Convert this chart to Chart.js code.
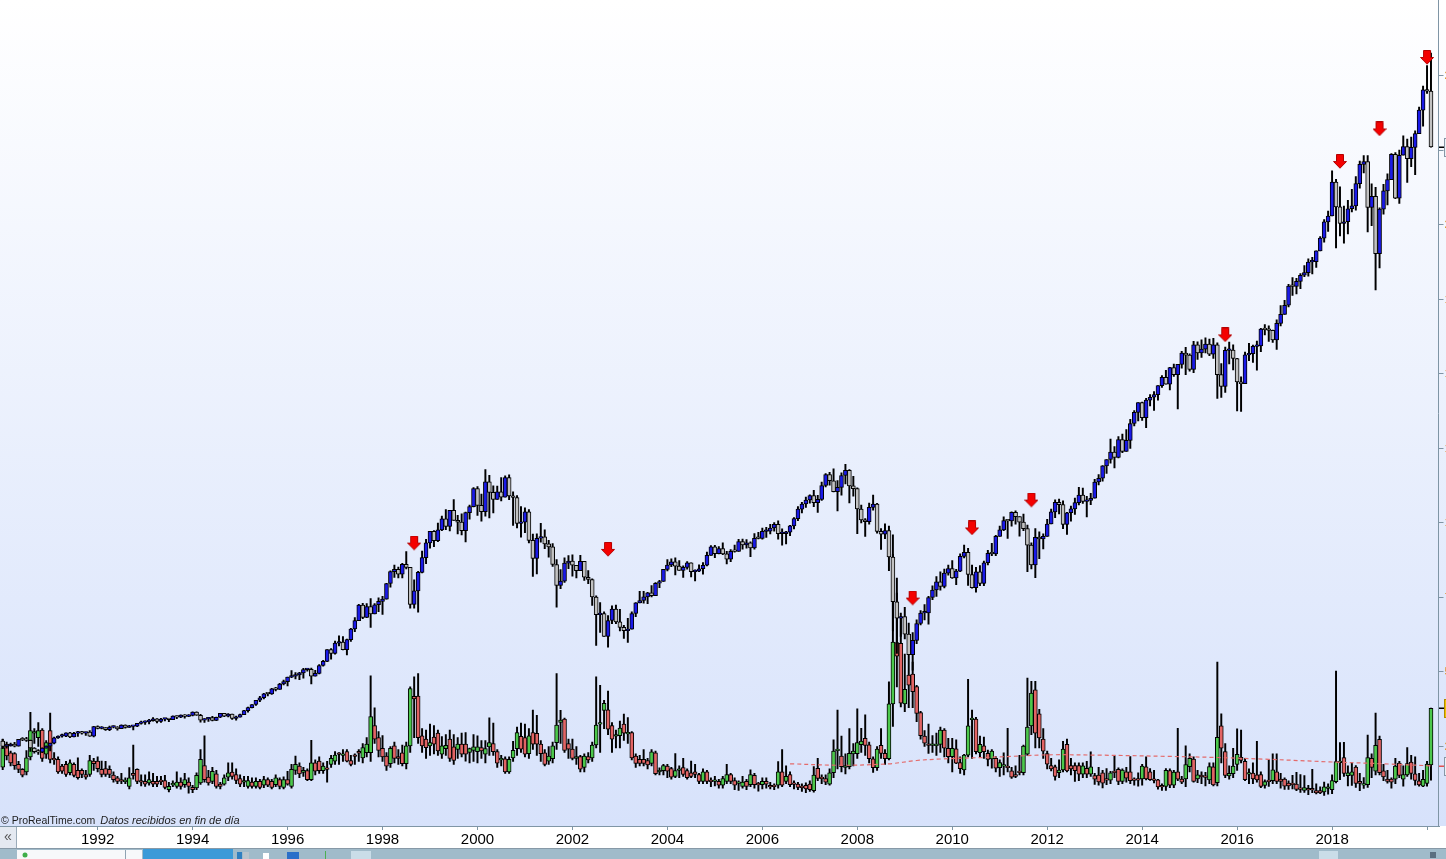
<!DOCTYPE html>
<html><head><meta charset="utf-8">
<script src="https://cdn.jsdelivr.net/npm/chart.js@4/dist/chart.umd.min.js"></script>
<style>html,body{margin:0;padding:0;overflow:hidden;background:#fff}#wrap{width:1446px;height:859px}canvas{display:block}</style>
</head><body><div id="wrap"><canvas id="c" width="1446" height="859"></canvas></div>
<script>
// ---- data (monthly, first candle = Jan 1990) ----
const startYear = 1990;
const tickMonths = [24,48,72,96,120,144,168,192,216,240,264,288,312,336,360];
const tickLabels = ['1992','1994','1996','1998','2000','2002','2004','2006','2008','2010','2012','2014','2016','2018',''];
const vixTicks = [25,50,75,100,125,150,175,200,225,250];
// S&P 500 monthly [open, high, low, close]
const spxOHLC = [
[353.4,360.6,319.8,329.1],[329.1,336.1,322.1,331.9],[331.9,344.5,331.1,339.9],[339.9,347.3,327.8,330.8],[330.8,361.2,330.8,361.2],[361.2,368.8,355.5,358.0],[358.0,369.8,351.2,356.2],[356.2,357.4,307.1,322.6],[322.6,324.3,299.4,306.1],[306.1,315.9,294.5,304.0],[304.0,323.5,301.7,322.2],[322.2,331.7,322.2,330.2],
[330.2,344.0,309.4,343.9],[343.9,370.5,340.6,367.1],[367.1,376.7,364.8,375.2],[375.2,384.6,370.6,375.3],[375.3,389.9,372.7,389.8],[389.8,392.0,367.8,371.2],[371.2,391.6,371.2,387.8],[387.8,396.6,374.1,395.4],[395.4,396.0,383.6,387.9],[387.9,393.0,378.1,392.5],[392.5,399.0,373.2,375.2],[375.2,418.3,371.2,417.1],
[417.1,420.8,406.9,408.8],[408.8,417.0,406.4,412.7],[412.7,413.0,400.7,403.7],[403.7,419.8,398.9,414.9],[414.9,420.1,411.5,415.4],[415.4,417.3,401.0,408.1],[408.1,424.8,408.1,424.2],[424.2,425.1,410.0,414.0],[414.0,422.4,413.6,417.8],[417.8,419.0,402.7,418.7],[418.7,431.5,416.3,431.4],[431.4,441.3,427.5,435.7],
[435.7,442.7,426.9,438.8],[438.8,449.5,429.0,443.4],[443.4,456.7,441.3,451.7],[451.7,452.7,432.9,440.2],[440.2,453.5,435.6,450.2],[450.2,453.5,441.7,451.0],[451.0,452.2,438.6,448.1],[448.1,464.4,447.5,464.0],[464.0,464.6,452.5,458.9],[458.9,468.8,457.0,467.8],[467.8,470.0,454.4,461.8],[461.8,470.8,460.6,466.5],
[466.5,482.9,464.5,481.6],[481.6,482.9,466.1,467.1],[467.1,471.1,436.2,445.8],[445.8,453.0,435.9,450.9],[450.9,457.6,439.9,456.5],[456.5,462.1,441.9,444.3],[444.3,459.4,443.7,458.3],[458.3,476.1,456.9,475.5],[475.5,475.6,460.5,462.7],[462.7,474.7,460.3,472.4],[472.4,473.0,449.1,453.7],[453.7,463.3,445.6,459.3],
[459.3,472.0,459.1,470.4],[470.4,489.2,469.6,487.4],[487.4,503.0,481.2,500.7],[500.7,514.9,500.2,514.7],[514.7,533.4,510.9,533.4],[533.4,551.1,527.5,544.8],[544.8,563.8,540.0,562.1],[562.1,564.0,552.7,561.9],[561.9,586.8,559.2,584.4],[584.4,590.7,574.9,581.5],[581.5,608.0,580.9,605.4],[605.4,622.9,600.8,615.9],
[615.9,636.2,597.3,636.0],[636.0,664.2,633.7,640.4],[640.4,656.0,627.6,645.5],[645.5,656.8,624.1,654.2],[654.2,674.3,630.7,669.1],[669.1,673.3,662.1,670.6],[670.6,675.9,605.9,639.9],[639.9,665.5,639.7,652.0],[652.0,690.9,649.4,687.3],[687.3,710.3,684.0,705.3],[705.3,757.0,703.8,757.0],[757.0,762.1,714.7,740.7],
[740.7,794.7,737.0,786.2],[786.2,817.7,773.4,790.8],[790.8,814.9,756.1,757.1],[757.1,804.1,733.5,801.3],[801.3,851.9,793.2,848.3],[848.3,898.7,837.0,885.1],[885.1,957.7,885.1,954.3],[954.3,961.6,894.3,899.5],[899.5,960.3,898.0,947.3],[947.3,983.1,855.3,914.6],[914.6,961.3,914.6,955.4],[955.4,986.3,924.9,970.4],
[970.4,992.7,912.8,980.3],[980.3,1050.0,980.3,1049.3],[1049.3,1105.7,1032.9,1101.8],[1101.8,1130.5,1076.7,1111.8],[1111.8,1122.1,1074.4,1090.8],[1090.8,1138.5,1074.6,1133.8],[1133.8,1190.6,1114.3,1120.7],[1120.7,1121.0,940.0,957.3],[957.3,1066.1,940.0,1017.0],[1017.0,1103.8,923.3,1098.7],[1098.7,1193.0,1096.6,1163.6],[1163.6,1244.9,1136.9,1229.2],
[1229.2,1280.0,1205.5,1279.6],[1279.6,1283.8,1212.2,1238.3],[1238.3,1316.2,1234.6,1286.4],[1286.4,1347.8,1282.8,1335.2],[1335.2,1376.0,1287.7,1301.8],[1301.8,1372.9,1281.4,1372.7],[1372.7,1420.3,1328.7,1328.7],[1328.7,1350.7,1268.4,1320.4],[1320.4,1357.7,1263.9,1282.7],[1282.7,1365.5,1233.7,1362.9],[1362.9,1396.1,1333.5,1388.9],[1388.9,1473.1,1387.4,1469.3],
[1469.3,1478.0,1350.1,1394.5],[1394.5,1444.6,1325.1,1366.4],[1366.4,1552.9,1346.6,1498.6],[1498.6,1527.2,1339.4,1452.4],[1452.4,1481.5,1361.1,1420.6],[1420.6,1480.1,1420.6,1454.6],[1454.6,1517.3,1413.9,1430.8],[1430.8,1525.2,1430.8,1517.7],[1517.7,1530.1,1419.4,1436.5],[1436.5,1454.8,1305.8,1429.4],[1429.4,1438.5,1294.9,1315.2],[1315.2,1389.1,1254.1,1320.3],
[1320.3,1383.4,1274.6,1366.0],[1366.0,1376.4,1228.8,1239.9],[1239.9,1267.4,1081.2,1160.3],[1160.3,1269.3,1092.0,1249.5],[1249.5,1315.9,1232.0,1255.8],[1255.8,1286.6,1203.0,1224.4],[1224.4,1239.8,1165.5,1211.2],[1211.2,1226.3,1124.9,1133.6],[1133.6,1155.4,944.8,1040.9],[1040.9,1110.6,1026.8,1059.8],[1059.8,1163.4,1054.3,1139.5],[1139.5,1173.0,1114.9,1148.1],
[1148.1,1176.6,1081.7,1130.2],[1130.2,1130.2,1074.4,1106.7],[1106.7,1173.9,1106.7,1147.4],[1147.4,1147.8,1063.5,1076.9],[1076.9,1106.6,1049.0,1067.1],[1067.1,1070.0,952.9,989.8],[989.8,994.5,775.7,911.6],[911.6,965.0,833.4,916.1],[916.1,924.0,815.3,815.3],[815.3,907.4,768.6,885.8],[885.8,951.0,872.1,936.3],[936.3,954.3,872.1,879.8],
[879.8,935.1,840.3,855.7],[855.7,864.6,806.3,841.2],[841.2,895.9,788.9,848.2],[848.2,924.2,847.8,916.9],[916.9,965.4,902.8,963.6],[963.6,1015.3,963.6,974.5],[974.5,1015.4,962.1,990.3],[990.3,1011.0,960.8,1008.0],[1008.0,1040.3,990.4,996.0],[996.0,1053.8,996.0,1050.7],[1050.7,1063.7,1031.2,1058.2],[1058.2,1112.6,1058.2,1111.9],
[1111.9,1155.4,1105.1,1131.1],[1131.1,1159.0,1124.4,1144.9],[1144.9,1163.2,1087.2,1126.2],[1126.2,1150.6,1107.2,1107.3],[1107.3,1127.7,1076.3,1120.7],[1120.7,1146.3,1113.3,1140.8],[1140.8,1140.8,1078.8,1101.7],[1101.7,1109.7,1060.7,1104.2],[1104.2,1131.5,1101.3,1114.6],[1114.6,1142.1,1090.2,1130.2],[1130.2,1188.5,1127.6,1173.8],[1173.8,1217.3,1173.8,1211.9],
[1211.9,1217.9,1163.8,1181.3],[1181.3,1212.4,1180.0,1203.6],[1203.6,1229.1,1176.9,1180.6],[1180.6,1191.9,1136.2,1156.9],[1156.9,1199.6,1146.2,1191.5],[1191.5,1219.6,1188.3,1191.3],[1191.3,1245.2,1191.3,1234.2],[1234.2,1245.9,1201.1,1220.3],[1220.3,1243.1,1205.4,1228.8],[1228.8,1233.3,1168.2,1207.0],[1207.0,1270.6,1201.1,1249.5],[1249.5,1275.8,1246.6,1248.3],
[1248.3,1294.9,1245.7,1280.1],[1280.1,1297.6,1253.6,1280.7],[1280.7,1310.9,1268.4,1294.9],[1294.9,1318.2,1280.7,1310.6],[1310.6,1326.7,1245.3,1270.1],[1270.1,1290.7,1219.3,1270.2],[1270.2,1280.4,1224.5,1276.7],[1276.7,1306.7,1261.3,1303.8],[1303.8,1340.3,1290.9,1335.9],[1335.9,1389.5,1327.1,1377.9],[1377.9,1407.9,1361.0,1400.6],[1400.6,1431.8,1385.9,1418.3],
[1418.3,1441.6,1404.0,1438.2],[1438.2,1461.6,1389.4,1406.8],[1406.8,1438.9,1364.0,1420.9],[1420.9,1498.0,1416.4,1482.4],[1482.4,1535.6,1476.7,1530.6],[1530.6,1540.6,1484.2,1503.4],[1503.4,1555.9,1454.3,1455.3],[1455.3,1503.9,1370.6,1474.0],[1474.0,1538.7,1439.3,1526.8],[1526.8,1576.1,1489.6,1549.4],[1549.4,1552.8,1406.1,1481.1],[1481.1,1523.6,1435.6,1468.4],
[1468.4,1471.8,1270.1,1378.6],[1378.6,1396.0,1316.8,1330.6],[1330.6,1336.6,1257.0,1322.7],[1322.7,1404.6,1312.2,1385.6],[1385.6,1440.2,1373.1,1400.4],[1400.4,1404.1,1272.0,1280.0],[1280.0,1292.2,1200.4,1267.4],[1267.4,1313.2,1247.5,1282.8],[1282.8,1303.0,1106.4,1166.4],[1166.4,1264.3,839.8,968.8],[968.8,1007.5,741.0,896.2],[896.2,918.9,815.7,903.3],
[903.3,943.9,804.5,825.9],[825.9,875.0,734.5,735.1],[735.1,833.0,666.8,797.9],[797.9,888.7,783.3,872.8],[872.8,930.2,866.1,919.1],[919.1,956.2,888.9,919.3],[919.3,993.2,869.3,987.5],[987.5,1039.5,978.5,1020.6],[1020.6,1080.2,992.0,1057.1],[1057.1,1101.4,1020.2,1036.2],[1036.2,1113.7,1029.4,1095.6],[1095.6,1130.4,1085.9,1115.1],
[1115.1,1150.5,1071.6,1073.9],[1073.9,1112.4,1044.5,1104.5],[1104.5,1180.2,1101.4,1169.4],[1169.4,1219.8,1163.0,1186.7],[1186.7,1205.1,1040.8,1089.4],[1089.4,1131.2,1028.3,1030.7],[1030.7,1121.0,1010.9,1101.6],[1101.6,1129.2,1039.7,1049.3],[1049.3,1148.7,1039.7,1141.2],[1141.2,1196.1,1131.9,1183.3],[1183.3,1227.1,1173.0,1180.6],[1180.6,1262.6,1173.0,1257.6],
[1257.6,1302.7,1257.6,1286.1],[1286.1,1344.1,1282.9,1327.2],[1327.2,1332.3,1249.1,1325.8],[1325.8,1366.6,1302.7,1363.6],[1363.6,1370.6,1311.8,1345.2],[1345.2,1345.2,1258.1,1320.6],[1320.6,1356.5,1282.9,1292.3],[1292.3,1307.4,1101.5,1218.9],[1218.9,1229.3,1114.2,1131.4],[1131.4,1292.7,1074.8,1253.3],[1253.3,1277.6,1158.7,1247.0],[1247.0,1269.4,1202.4,1257.6],
[1257.6,1333.5,1257.6,1312.4],[1312.4,1378.0,1312.4,1365.7],[1365.7,1419.2,1340.0,1408.5],[1408.5,1422.4,1357.4,1397.9],[1397.9,1415.3,1292.0,1310.3],[1310.3,1363.5,1266.7,1362.2],[1362.2,1391.7,1325.4,1379.3],[1379.3,1426.7,1354.7,1406.6],[1406.6,1474.5,1396.6,1440.7],[1440.7,1471.0,1403.3,1412.2],[1412.2,1434.3,1343.4,1416.2],[1416.2,1448.0,1398.1,1426.2],
[1426.2,1509.9,1426.2,1498.1],[1498.1,1530.9,1485.0,1514.7],[1514.7,1570.3,1501.5,1569.2],[1569.2,1597.6,1536.0,1597.6],[1597.6,1687.2,1581.3,1630.7],[1630.7,1654.2,1560.3,1606.3],[1606.3,1698.8,1604.6,1685.7],[1685.7,1709.7,1627.5,1633.0],[1633.0,1729.9,1633.0,1681.6],[1681.6,1775.2,1646.5,1756.5],[1756.5,1813.6,1746.2,1805.8],[1805.8,1849.4,1768.0,1848.4],
[1848.4,1850.8,1770.5,1782.6],[1782.6,1867.9,1737.9,1859.5],[1859.5,1884.0,1834.4,1872.3],[1872.3,1897.3,1814.4,1884.0],[1884.0,1924.0,1859.8,1923.6],[1923.6,1968.2,1916.0,1960.2],[1960.2,1991.4,1930.7,1930.7],[1930.7,2005.0,1904.8,2003.4],[2003.4,2019.3,1964.0,1972.3],[1972.3,2018.2,1820.7,2018.1],[2018.1,2075.8,2001.0,2067.6],[2067.6,2093.6,1972.6,2058.9],
[2058.9,2064.4,1988.1,1995.0],[1995.0,2119.6,1980.9,2104.5],[2104.5,2117.5,2039.7,2067.9],[2067.9,2125.9,2048.4,2085.5],[2085.5,2134.7,2067.9,2107.4],[2107.4,2129.9,2056.3,2063.1],[2063.1,2132.8,2044.0,2103.8],[2103.8,2112.7,1867.0,1972.2],[1972.2,2020.9,1871.9,1920.0],[1920.0,2094.3,1893.7,2079.4],[2079.4,2116.5,2019.4,2080.4],[2080.4,2104.3,1993.3,2043.9],
[2043.9,2044.0,1812.3,1940.2],[1940.2,1963.0,1810.1,1932.2],[1932.2,2072.2,1932.2,2059.7],[2059.7,2111.1,2033.8,2065.3],[2065.3,2103.5,2025.9,2097.0],[2097.0,2120.6,1991.7,2098.9],[2098.9,2177.1,2074.0,2173.6],[2173.6,2193.8,2147.6,2171.0],[2171.0,2187.9,2119.1,2168.3],[2168.3,2169.6,2114.7,2126.2],[2126.2,2214.1,2083.8,2198.8],[2198.8,2277.5,2187.4,2238.8],
[2238.8,2301.0,2238.8,2278.9],[2278.9,2371.5,2271.7,2363.6],[2363.6,2401.0,2322.3,2362.7],[2362.7,2398.2,2329.0,2384.2],[2384.2,2418.7,2352.7,2411.8],[2411.8,2453.8,2405.7,2423.4],[2423.4,2484.0,2407.7,2470.3],[2470.3,2490.9,2417.4,2471.7],[2471.7,2519.4,2446.6,2519.4],[2519.4,2583.0,2519.4,2575.3],[2575.3,2657.7,2557.4,2647.6],[2647.6,2695.0,2605.5,2673.6],
[2673.6,2872.9,2673.6,2823.8],[2823.8,2836.0,2532.7,2713.8],[2713.8,2801.9,2585.9,2640.9],[2640.9,2717.5,2553.8,2648.1],[2648.1,2742.2,2594.6,2705.3],[2705.3,2791.5,2692.0,2718.4],[2718.4,2848.0,2699.0,2816.3],[2816.3,2916.5,2796.3,2901.5],[2901.5,2940.9,2864.1,2914.0],[2914.0,2939.9,2603.5,2711.7],[2711.7,2815.2,2631.1,2760.2],[2760.2,2800.2,2346.6,2506.9],
[2506.9,2709.0,2444.0,2704.1],[2704.1,2813.5,2681.8,2784.5],[2784.5,2860.3,2722.3,2834.4],[2834.4,2949.5,2834.4,2945.8],[2945.8,2954.1,2750.5,2752.1],[2752.1,2964.2,2728.8,2941.8],[2941.8,3028.0,2941.8,2980.4],[2980.4,3013.6,2822.1,2926.5],[2926.5,3022.0,2891.9,2976.7],[2976.7,3050.1,2855.9,3037.6],[3037.6,3154.3,3037.6,3141.0],[3141.0,3247.9,3070.3,3230.8],
[3230.8,3337.8,3214.6,3225.5],[3225.5,3393.5,2977.9,2978.8]
];
// VIX monthly [open, high, low, close]
const vixOHLC = [
[18.1,27.5,17.2,24.6],[25.8,26.5,20.5,21.8],[22.9,23.5,18.5,19.5],[22.6,23.0,17.3,18.6],[19.0,20.0,16.2,17.3],[17.3,17.6,14.8,15.4],[16.5,23.6,15.5,21.2],[21.5,36.5,20.5,30.3],[29.5,31.0,26.0,30.0],[28.0,33.0,25.0,30.3],[30.5,31.0,20.0,21.0],[22.4,27.0,21.0,26.3],
[30.3,36.2,19.5,20.7],[20.8,23.0,19.0,20.5],[20.7,21.5,16.0,16.5],[18.4,19.0,16.0,16.7],[19.0,20.0,15.0,15.6],[16.2,20.5,15.5,19.5],[19.0,19.5,14.8,15.3],[17.0,21.2,14.0,14.5],[17.0,17.5,14.5,15.6],[15.6,17.0,14.0,14.7],[15.6,22.0,15.0,20.3],[20.1,21.0,17.0,19.2],
[20.1,21.5,16.5,17.6],[17.3,20.1,14.8,15.6],[17.6,20.0,15.0,15.6],[17.3,18.5,14.5,15.6],[15.4,16.5,13.0,13.9],[14.5,15.0,12.5,13.3],[13.6,16.0,12.5,13.4],[13.2,14.5,12.5,13.3],[11.6,17.9,10.8,14.5],[16.0,25.5,14.0,15.3],[17.3,17.5,12.5,13.3],[13.1,15.5,11.8,13.0],
[13.3,15.5,11.6,12.4],[12.8,16.5,12.0,13.9],[13.3,16.0,11.5,12.4],[13.3,15.0,11.5,12.4],[13.3,15.0,12.2,13.2],[13.6,15.3,10.8,11.3],[10.5,13.0,9.8,11.6],[12.1,13.5,11.5,12.2],[11.6,16.5,11.0,13.1],[13.1,14.5,10.7,11.6],[12.2,16.0,11.3,13.9],[13.1,14.5,9.3,11.6],
[11.3,12.0,9.5,10.5],[11.1,16.2,10.5,15.3],[12.8,24.0,12.3,20.7],[18.6,28.6,13.0,13.9],[14.7,17.0,12.0,12.8],[13.3,18.0,12.5,16.7],[15.8,17.0,11.0,11.6],[12.4,13.0,10.8,11.6],[12.4,15.5,12.0,14.5],[14.7,19.5,13.5,16.2],[16.4,19.5,14.0,15.0],[15.6,17.5,12.5,13.6],
[14.2,15.5,11.5,12.4],[13.0,15.0,11.5,13.1],[11.6,15.0,11.0,13.6],[13.1,14.5,11.0,11.6],[11.6,14.5,11.0,13.3],[13.3,14.0,10.8,11.3],[12.0,15.0,11.2,13.9],[13.9,14.5,11.5,12.0],[13.3,14.0,10.8,11.3],[12.2,15.5,11.5,14.5],[13.9,14.5,10.8,11.6],[11.3,14.8,10.8,13.9],
[13.9,16.7,12.0,12.4],[11.6,19.0,11.0,17.3],[17.0,21.8,15.6,19.0],[18.4,19.5,14.5,15.8],[16.3,18.0,15.0,17.0],[16.9,17.5,13.5,13.9],[13.9,27.1,13.5,19.5],[19.5,20.5,15.5,16.7],[20.1,21.5,16.0,16.9],[16.9,19.5,16.0,18.4],[17.5,20.0,13.0,17.3],[19.0,22.0,18.0,21.0],
[20.1,23.3,19.0,22.1],[22.4,23.0,19.0,22.3],[22.0,24.0,20.0,22.2],[23.3,24.0,19.8,20.1],[20.3,22.0,18.5,19.0],[21.8,22.5,19.0,21.7],[22.9,24.0,20.0,22.8],[21.2,26.0,19.5,24.6],[22.9,28.0,21.5,25.8],[22.9,48.7,20.0,35.0],[32.0,38.0,26.0,27.5],[28.0,30.0,21.5,23.7],
[24.4,28.7,20.0,21.5],[21.8,23.0,17.0,18.4],[19.2,25.0,18.0,24.4],[25.2,26.5,19.5,21.0],[21.6,24.0,19.0,21.0],[22.9,25.5,18.5,19.2],[19.2,26.5,17.5,25.2],[25.2,45.0,23.0,44.4],[41.8,48.4,28.0,41.0],[41.9,49.5,26.0,28.0],[28.6,31.0,23.0,25.2],[27.5,30.5,21.0,24.6],
[25.2,32.5,22.0,26.3],[28.2,32.0,22.5,25.8],[29.5,30.5,22.0,23.5],[22.4,28.3,21.0,25.2],[24.3,29.0,22.0,25.4],[27.5,30.5,20.0,21.0],[24.9,29.0,19.0,20.3],[24.0,28.0,21.0,25.8],[25.8,29.5,21.5,22.4],[25.8,29.7,20.1,22.4],[23.0,24.5,19.5,24.3],[23.7,29.0,20.0,24.9],
[23.3,28.6,19.5,24.9],[24.6,27.0,21.0,23.5],[22.4,27.0,19.5,24.3],[24.9,34.6,22.0,26.3],[26.0,32.9,22.0,23.3],[23.3,24.0,18.0,19.4],[20.5,22.0,18.5,20.9],[20.9,21.5,16.0,16.5],[16.5,21.5,16.0,20.7],[21.2,26.7,20.0,23.7],[24.3,31.5,22.0,29.7],[28.4,32.9,23.0,24.1],
[28.0,32.5,21.5,22.4],[22.6,31.0,21.0,28.6],[29.7,37.2,24.0,25.8],[29.4,35.5,22.0,25.8],[25.8,27.0,20.0,22.6],[22.9,24.0,18.5,19.0],[20.1,25.0,19.0,21.8],[20.9,26.5,19.5,25.2],[26.3,49.5,24.0,32.2],[33.1,37.1,26.0,33.9],[34.2,34.5,23.0,23.7],[26.0,27.5,21.0,24.1],
[24.1,27.5,20.5,21.0],[21.0,25.0,19.0,21.6],[21.6,22.0,16.5,17.4],[18.0,22.5,16.5,21.8],[21.6,23.0,19.5,20.5],[21.2,26.5,20.0,25.5],[25.5,48.4,24.5,32.2],[32.5,45.5,23.0,33.0],[37.1,40.5,31.0,39.5],[37.3,43.6,29.0,30.8],[32.0,33.0,23.0,27.5],[28.5,30.5,24.5,28.7],
[28.6,33.5,24.5,31.2],[32.5,35.9,27.0,29.5],[29.2,34.7,26.0,29.4],[29.7,30.0,20.5,21.2],[21.8,22.5,18.0,19.3],[20.7,22.0,18.5,19.3],[20.7,24.0,18.5,19.3],[20.3,21.0,17.5,18.8],[19.3,24.0,18.5,23.2],[22.9,23.5,15.5,15.9],[16.5,17.8,15.5,16.6],[16.9,19.0,15.5,18.6],
[18.4,19.0,14.5,16.7],[17.6,18.0,14.0,14.7],[15.0,22.6,14.5,16.9],[17.0,18.5,14.5,17.1],[17.9,21.0,15.0,15.6],[16.9,17.5,14.0,14.5],[16.2,20.1,14.5,15.0],[16.5,19.0,14.5,15.6],[15.6,16.0,12.5,13.3],[13.3,17.5,12.5,16.5],[16.5,17.0,12.5,13.3],[13.3,14.5,11.5,13.2],
[13.3,15.0,11.8,13.4],[13.3,14.0,11.0,12.0],[12.0,15.0,11.0,14.2],[13.3,19.0,12.5,15.6],[15.6,16.0,12.5,13.3],[13.6,14.5,10.5,12.0],[12.6,13.5,10.3,12.8],[11.6,15.0,11.0,13.1],[13.3,14.0,10.5,11.6],[12.2,17.2,11.5,15.6],[15.3,16.0,11.0,12.2],[12.2,13.0,10.0,12.1],
[12.2,14.5,10.8,13.3],[13.3,14.5,11.0,12.4],[11.5,13.0,10.8,11.4],[11.6,12.5,10.5,11.5],[12.0,19.9,11.0,16.5],[16.5,24.0,11.5,12.0],[13.3,18.5,12.5,15.0],[15.6,16.5,11.5,12.2],[12.4,13.5,10.8,12.3],[12.4,13.0,10.5,11.3],[11.3,12.5,9.9,11.2],[12.0,12.8,9.5,10.8],
[12.4,13.5,9.9,10.5],[10.2,18.3,9.7,15.4],[17.7,21.0,13.5,14.3],[14.6,15.5,12.5,14.2],[14.2,15.5,12.2,13.0],[12.4,17.5,12.0,16.2],[16.2,27.2,14.5,23.5],[23.6,37.2,17.5,23.9],[21.8,28.5,16.5,18.2],[18.0,22.5,15.8,18.6],[18.2,31.0,17.5,22.7],[22.5,26.0,18.5,23.5],
[22.6,37.6,21.0,26.3],[25.6,31.1,23.0,26.8],[27.7,35.6,22.0,25.4],[25.6,26.5,19.5,20.9],[20.9,21.5,16.3,17.9],[17.9,25.0,17.0,24.1],[25.4,31.0,21.0,22.7],[22.7,24.0,19.0,20.9],[20.9,46.7,20.5,39.3],[39.3,89.5,31.7,60.0],[59.9,81.5,45.0,55.3],[59.6,68.6,38.3,39.5],
[39.3,56.0,36.7,44.2],[49.0,56.3,38.0,45.6],[49.3,53.3,38.0,43.4],[45.1,45.5,33.3,36.1],[36.4,36.8,27.5,28.6],[28.5,30.3,25.0,26.1],[25.6,32.5,22.7,25.4],[25.4,28.7,23.0,25.6],[25.3,29.5,22.0,25.5],[25.7,31.5,23.0,30.5],[30.5,31.0,21.5,24.4],[24.4,27.7,19.5,21.6],
[21.6,27.7,16.5,24.4],[24.2,27.2,19.2,19.4],[19.6,21.5,16.0,17.6],[17.1,22.4,15.5,22.1],[22.1,47.5,21.5,31.9],[34.0,37.2,21.0,34.3],[34.2,34.8,22.5,23.3],[22.9,28.5,21.5,25.7],[25.2,28.2,21.0,23.3],[22.7,23.8,18.5,20.7],[20.8,24.0,17.7,23.5],[21.0,21.6,16.5,17.7],
[17.9,20.5,15.0,19.6],[18.4,22.9,15.5,18.5],[18.2,31.1,16.5,17.9],[16.8,18.0,14.3,14.7],[15.6,18.5,14.5,15.0],[16.7,22.0,15.5,16.2],[16.2,25.5,15.5,25.1],[22.4,48.0,22.0,31.5],[31.9,46.9,29.0,42.9],[44.0,46.9,24.5,29.5],[36.0,37.5,24.5,27.9],[27.5,31.0,21.0,23.4],
[22.6,23.5,17.5,19.1],[18.6,21.0,16.8,17.5],[18.2,18.8,13.7,15.0],[16.2,20.5,14.5,17.1],[17.1,26.7,16.5,24.1],[25.7,27.5,16.5,16.8],[18.6,21.0,15.5,17.5],[18.6,19.5,13.3,16.9],[18.6,19.5,13.5,15.7],[15.7,19.5,14.5,18.5],[17.7,20.0,14.5,15.7],[15.7,23.2,15.0,18.2],
[15.2,16.0,12.3,14.0],[15.4,18.0,12.0,13.1],[16.2,17.0,11.1,12.7],[13.8,17.6,12.2,13.7],[13.7,16.7,12.5,16.2],[16.5,21.9,14.5,16.2],[17.3,17.8,12.2,13.3],[13.3,17.5,12.5,17.1],[16.5,18.0,13.0,14.4],[16.5,21.6,12.5,13.5],[13.7,14.5,12.0,13.6],[13.9,16.2,11.7,13.7],
[14.1,19.0,12.0,18.4],[18.2,21.5,13.8,14.1],[16.5,17.6,13.6,13.9],[13.8,17.0,12.8,13.6],[13.8,14.0,10.7,11.4],[11.6,12.5,10.3,11.4],[11.6,17.6,10.3,17.0],[16.9,17.5,11.2,12.0],[12.0,17.0,11.2,16.4],[16.5,31.1,13.5,14.0],[14.1,15.0,12.5,13.0],[14.1,25.2,11.5,18.9],
[18.2,22.5,16.5,21.0],[20.8,21.5,13.0,13.3],[14.1,17.0,12.9,15.5],[15.4,16.5,12.5,14.8],[14.7,16.3,11.8,14.6],[13.8,19.5,12.5,18.3],[18.2,19.5,11.8,12.1],[12.9,53.3,11.8,28.1],[31.9,36.0,19.5,24.4],[23.3,26.0,14.5,15.3],[15.1,18.5,14.0,16.0],[15.9,24.4,14.5,18.4],
[19.0,30.9,17.0,22.4],[21.4,30.5,19.5,20.3],[20.0,21.0,13.5,13.9],[15.7,17.5,12.5,15.8],[16.1,19.5,12.5,14.1],[15.5,26.7,13.0,13.8],[15.6,16.5,11.2,11.6],[11.9,13.8,11.0,13.2],[13.4,20.5,11.6,13.2],[13.5,22.5,12.5,17.2],[16.5,22.5,12.5,13.3],[14.1,16.0,11.0,13.3],
[14.1,14.5,10.6,11.7],[12.7,13.5,10.6,11.8],[12.3,15.3,10.8,12.2],[12.4,16.3,10.2,10.6],[10.7,15.6,9.6,10.6],[10.3,15.2,9.6,11.2],[10.5,12.0,8.8,10.4],[10.5,17.3,9.5,10.4],[10.2,12.5,9.1,9.4],[10.2,11.5,9.2,9.4],[9.8,13.1,8.6,11.5],[11.5,12.5,9.0,11.5],
[10.5,15.5,9.2,13.6],[13.2,50.3,12.8,19.9],[19.6,26.3,13.9,20.0],[21.3,26.4,15.0,16.0],[15.2,18.5,11.8,16.2],[15.3,19.5,11.9,16.5],[18.1,18.6,11.3,12.6],[13.3,16.0,10.2,12.6],[12.0,14.6,10.9,12.3],[12.2,28.8,11.3,21.3],[21.0,22.5,14.5,18.0],[16.7,36.2,15.5,25.4],
[27.4,28.5,15.5,16.2],[16.8,19.0,13.5,14.8],[14.1,17.0,12.7,13.3],[14.1,14.5,11.0,13.0],[14.0,21.0,12.5,18.4],[19.4,20.0,14.5,15.3],[14.0,18.5,11.7,15.6],[15.5,24.6,15.0,19.3],[19.8,22.0,14.0,16.0],[15.8,21.5,12.0,13.6],[13.5,16.0,11.7,12.1],[11.7,17.0,11.5,14.0],
[12.6,20.0,11.7,19.1],[18.8,37.9,13.7,37.8]
];
// long-term average of VIX (red dashed line)
const avgMonths = [199,212,224,231,237,252,264,277,294,307,320,336,349,361];
const avgValues = [19.2,18.7,19.2,20.3,20.8,21.5,22.2,22.1,21.7,21.3,20.7,19.8,19.2,18.5];
// signal arrows (month index, price level of arrow centre)
const signalMonths = [104,153,230,245,260,309,338,348,360];
const signalLevels = [1228,1200,985,1295,1418,2148,2914,3058,3374];

// ---- styling ----
const SPX_UP='#1a1ae8', SPX_DN='#c2c2c2', VIX_UP='#4cc84c', VIX_DN='#e26464';
const AXIS='#7f95a5';
const SANS = '"Liberation Sans", Arial, sans-serif';

const arrow = document.createElement('canvas');
arrow.width = 14; arrow.height = 15;
(function(){
  const g = arrow.getContext('2d');
  g.beginPath();
  g.moveTo(3.5,0.5); g.lineTo(10.5,0.5); g.lineTo(10.5,7.5); g.lineTo(13.5,7.5);
  g.lineTo(7,14.2); g.lineTo(0.5,7.5); g.lineTo(3.5,7.5); g.closePath();
  g.fillStyle='#f40000'; g.fill();
  g.strokeStyle='#b40000'; g.lineWidth=1; g.stroke();
})();

const wick = arr => arr.map((d,i)=>({x:i, y:[d[2],d[1]]}));
const body = arr => arr.map((d,i)=>({x:i, y:[d[0],d[3]]}));

const decor = {
  id:'decor',
  beforeDraw(chart){
    const {ctx, chartArea:a, width, height} = chart;
    ctx.save();
    const g = ctx.createLinearGradient(0,0,0,a.bottom);
    g.addColorStop(0,'#ffffff'); g.addColorStop(1,'#d7e2fb');
    ctx.fillStyle = g; ctx.fillRect(0,0,width,a.bottom);
    // axis band
    ctx.fillStyle = '#ffffff'; ctx.fillRect(0,a.bottom,width,height-a.bottom);
    ctx.fillStyle = '#e4e9f1'; ctx.fillRect(0,a.bottom,16,22);
    ctx.fillStyle = '#9aabb9'; ctx.fillRect(16,a.bottom,1,22);
    // toolbar
    const ty = height-11;
    ctx.fillStyle = '#8799a7'; ctx.fillRect(0,ty,width,1);
    ctx.fillStyle = '#a0bbca'; ctx.fillRect(0,ty+1,width,10);
    ctx.fillStyle = '#f7f8fa'; ctx.fillRect(17,ty+2,108,9);
    ctx.fillStyle = '#8fa3b2'; ctx.fillRect(125,ty+2,1,9);
    ctx.fillStyle = '#f7f8fa'; ctx.fillRect(126,ty+2,16,9);
    ctx.fillStyle = '#3b9ad8'; ctx.fillRect(143,ty+1,90,10);
    ctx.fillStyle = '#2f7fc0'; ctx.fillRect(237,ty+4,5,7);
    ctx.fillStyle = '#b9c4cc'; ctx.fillRect(243,ty+4,6,7);
    ctx.fillStyle = '#ffffff'; ctx.fillRect(263,ty+5,6,6);
    ctx.fillStyle = '#2a6fc9'; ctx.fillRect(287,ty+4,12,7);
    ctx.fillStyle = '#4caf50'; ctx.fillRect(325,ty+3,1,8);
    ctx.fillStyle = '#cadde8'; ctx.fillRect(351,ty+3,20,8);
    ctx.fillStyle = '#cadde8'; ctx.fillRect(1319,ty+3,19,8);
    ctx.fillStyle = '#5b6f80'; ctx.fillRect(1430,ty+4,6,6);
    ctx.fillStyle = '#3fae49'; ctx.beginPath(); ctx.arc(25,ty+7,2.5,0,Math.PI*2); ctx.fill();
    ctx.restore();
  },
  afterDraw(chart){
    const {ctx, chartArea:a, scales, width} = chart;
    ctx.save();
    // bottom border of plot
    ctx.fillStyle = AXIS; ctx.fillRect(0,a.bottom,Math.round(a.right)+1,1);
    // «
    ctx.fillStyle = '#555'; ctx.font = '14px ' + SANS;
    ctx.textAlign='center'; ctx.textBaseline='middle';
    ctx.fillText('\u00AB', 8, a.bottom+11);
    // watermark
    ctx.textAlign='left'; ctx.textBaseline='alphabetic'; ctx.fillStyle='#1c1c1c';
    ctx.font = '10.5px ' + SANS;
    const t1 = '\u00A9 ProRealTime.com';
    ctx.fillText(t1, 1, a.bottom-2);
    const w1 = ctx.measureText(t1).width;
    ctx.font = 'italic 11px ' + SANS;
    ctx.fillText('Datos recibidos en fin de d\u00EDa', 1 + w1 + 5, a.bottom-2);
    // last-value markers on the right axis
    const R = Math.round(a.right);
    const mark = (y, line, fill, stroke) => {
      ctx.fillStyle = line; ctx.fillRect(R, Math.round(y)-0.5, 5, 1.5);
      ctx.fillStyle = fill; ctx.fillRect(R+5, Math.round(y)-9, width-R-5, 19);
      ctx.strokeStyle = stroke; ctx.lineWidth = 1; ctx.strokeRect(R+5.5, Math.round(y)-8.5, width-R, 18);
    };
    mark(scales.y.getPixelForValue(spxOHLC[spxOHLC.length-1][3]), '#000', '#eef2f6', '#8797a6');
    mark(scales.y2.getPixelForValue(avgValues[avgValues.length-1]), '#e05050', '#eef2f6', '#8797a6');
    mark(scales.y2.getPixelForValue(vixOHLC[vixOHLC.length-1][3]), '#000', '#f2c200', '#b08a00');
    ctx.restore();
  }
};

new Chart(document.getElementById('c'), {
  type:'bar',
  data:{datasets:[
    {type:'bar', label:'VIX wick', data:wick(vixOHLC), yAxisID:'y2', backgroundColor:'#000', barThickness:1.3, grouped:false, order:10},
    {type:'bar', label:'VIX', data:body(vixOHLC), yAxisID:'y2', grouped:false, order:9,
      backgroundColor: c => { const d = vixOHLC[c.dataIndex]; return d && d[3] >= d[0] ? VIX_UP : VIX_DN; },
      borderColor:'#000', borderWidth:1, borderSkipped:false, barThickness:4, minBarLength:1.6},
    {type:'line', label:'VIX avg', data:avgMonths.map((m,i)=>({x:m, y:avgValues[i]})), yAxisID:'y2', order:8,
      borderColor:'#e46a6a', borderWidth:1.2, borderDash:[4,3], pointRadius:0, fill:false, tension:0.35},
    {type:'bar', label:'SPX wick', data:wick(spxOHLC), yAxisID:'y', backgroundColor:'#000', barThickness:1.3, grouped:false, order:7},
    {type:'bar', label:'SPX', data:body(spxOHLC), yAxisID:'y', grouped:false, order:6,
      backgroundColor: c => { const d = spxOHLC[c.dataIndex]; return d && d[3] > d[0] ? SPX_UP : SPX_DN; },
      borderColor:'#000', borderWidth:1, borderSkipped:false, barThickness:4, minBarLength:1.6},
    {type:'scatter', label:'signals', data:signalMonths.map((m,i)=>({x:m, y:signalLevels[i]})), yAxisID:'y', order:1,
      pointStyle:arrow, pointRadius:7}
  ]},
  options:{
    responsive:false, animation:false, devicePixelRatio:1, events:[],
    layout:{padding:{left:0,right:0,top:0,bottom:10}, autoPadding:false},
    plugins:{legend:{display:false}, tooltip:{enabled:false}},
    scales:{
      x:{type:'linear', position:'bottom', min:-0.682, max:362.9, offset:false,
        afterBuildTicks: s => { s.ticks = tickMonths.map(v=>({value:v})); },
        afterFit: s => { s.height = 23; s.paddingLeft = 0; s.paddingRight = 0; },
        ticks:{autoSkip:false, maxRotation:0, minRotation:0, padding:1, color:'#000',
          font:{family:SANS, size:15},
          callback:(v)=>{ const i = tickMonths.indexOf(v); return i<0 ? '' : tickLabels[i]; }},
        grid:{display:true, offset:false, drawOnChartArea:false, drawTicks:true, tickLength:4, color:AXIS, lineWidth:1},
        border:{display:false}
      },
      y:{type:'linear', display:false, min:-22.1, max:3627.9},
      y2:{type:'linear', position:'right', min:-1.678, max:275.5,
        afterBuildTicks: s => { s.ticks = vixTicks.map(v=>({value:v})); },
        afterFit: s => { s.width = 7.5; s.paddingTop = 0; s.paddingBottom = 0; },
        ticks:{padding:1, color:'#e0902a', font:{family:SANS, size:11}},
        grid:{display:true, offset:false, drawOnChartArea:false, drawTicks:true, tickLength:5, color:AXIS, lineWidth:1},
        border:{display:true, color:AXIS, width:1}
      }
    }
  },
  plugins:[decor]
});
</script>
</body></html>
